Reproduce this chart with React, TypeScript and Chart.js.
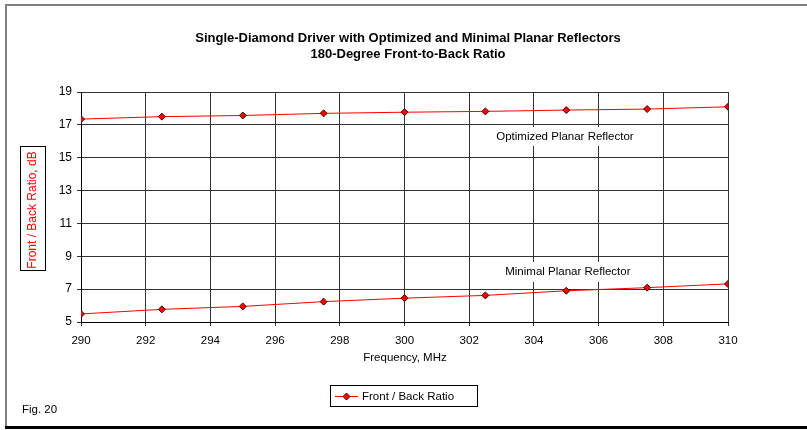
import React, { useEffect, useRef } from "react";
import { Chart, registerables } from "chart.js";

Chart.register(...registerables);

const frequencies = [290, 292.5, 295, 297.5, 300, 302.5, 305, 307.5, 310];
const optimizedRatio = [17.35, 17.5, 17.57, 17.7, 17.77, 17.82, 17.9, 17.96, 18.1];
const minimalRatio = [5.49, 5.77, 5.95, 6.24, 6.45, 6.62, 6.9, 7.09, 7.32];

const titleLines = [
  "Single-Diamond Driver with Optimized and Minimal Planar Reflectors",
  "180-Degree Front-to-Back Ratio",
];
const xTitle = "Frequency, MHz";
const yTitle = "Front / Back Ratio, dB";
const legendLabel = "Front / Back Ratio";
const figLabel = "Fig. 20";
const seriesLabels = ["Optimized Planar Reflector", "Minimal Planar Reflector"];

const FONT = "'Liberation Sans', Arial, sans-serif";

const extrasPlugin = {
  id: "extras",
  afterDraw(chart: any) {
    const ctx = chart.ctx as CanvasRenderingContext2D;
    const x = chart.scales.x;
    const y = chart.scales.y;
    ctx.save();
    // frame
    ctx.fillStyle = "#808080";
    ctx.fillRect(5, 4, 807, 2);
    ctx.fillRect(5, 4, 2, 424);
    ctx.fillStyle = "#000";
    ctx.fillRect(5, 426, 807, 3);

    // title
    ctx.fillStyle = "#000";
    ctx.textAlign = "center";
    ctx.textBaseline = "middle";
    ctx.font = `bold 13px ${FONT}`;
    ctx.fillText(titleLines[0], 408, 38);
    ctx.fillText(titleLines[1], 408, 54);

    // x title
    ctx.font = `11.5px ${FONT}`;
    ctx.fillText(xTitle, 405, 358);

    // y title box
    ctx.fillStyle = "#fff";
    ctx.fillRect(20, 146, 26, 125);
    ctx.strokeStyle = "#000";
    ctx.lineWidth = 1;
    ctx.strokeRect(20.5, 146.5, 25, 124);
    ctx.save();
    ctx.translate(33, 210);
    ctx.rotate(-Math.PI / 2);
    ctx.fillStyle = "#ff0000";
    ctx.font = `12px ${FONT}`;
    ctx.fillText(yTitle, 0, 0);
    ctx.restore();

    // annotation labels
    const labels = [
      { text: seriesLabels[0], cx: x.getPixelForValue(304.96), cy: y.getPixelForValue(16.28), w: 146, h: 19 },
      { text: seriesLabels[1], cx: x.getPixelForValue(305.05), cy: y.getPixelForValue(8.05), w: 134, h: 20 },
    ];
    ctx.font = `11.5px ${FONT}`;
    labels.forEach((l) => {
      ctx.fillStyle = "#fff";
      ctx.fillRect(Math.round(l.cx - l.w / 2), Math.round(l.cy - l.h / 2), l.w, l.h);
      ctx.fillStyle = "#000";
      ctx.fillText(l.text, l.cx, l.cy);
    });

    // legend
    ctx.fillStyle = "#fff";
    ctx.fillRect(330, 385, 148, 22);
    ctx.strokeStyle = "#000";
    ctx.strokeRect(330.5, 385.5, 147, 21);
    ctx.strokeStyle = "#ff0000";
    ctx.beginPath();
    ctx.moveTo(335, 396.5);
    ctx.lineTo(358, 396.5);
    ctx.stroke();
    ctx.fillStyle = "#ff0000";
    ctx.strokeStyle = "#400000";
    ctx.beginPath();
    ctx.moveTo(346.5, 393);
    ctx.lineTo(350, 396.5);
    ctx.lineTo(346.5, 400);
    ctx.lineTo(343, 396.5);
    ctx.closePath();
    ctx.fill();
    ctx.stroke();
    ctx.fillStyle = "#000";
    ctx.textAlign = "left";
    ctx.font = `11.5px ${FONT}`;
    ctx.fillText(legendLabel, 362, 396.5);

    // fig label
    ctx.fillText(figLabel, 22, 410);
    ctx.restore();
  },
};

export default function App() {
  const ref = useRef<HTMLCanvasElement | null>(null);
  useEffect(() => {
    if (!ref.current) return;
    const mk = (vals: number[]) => frequencies.map((f, i) => ({ x: f, y: vals[i] }));
    const ds = (label: string, vals: number[]) => ({
      label,
      data: mk(vals),
      borderColor: "#ff0000",
      borderWidth: 1,
      backgroundColor: "#ff0000",
      pointStyle: "rectRot" as const,
      pointRadius: 3.5,
      pointBorderColor: "#400000",
      pointBorderWidth: 1,
      pointBackgroundColor: "#ff0000",
      tension: 0,
    });
    const chart = new Chart(ref.current, {
      type: "line",
      data: {
        datasets: [ds(legendLabel, optimizedRatio), ds(legendLabel, minimalRatio)],
      },
      options: {
        responsive: false,
        animation: false,
        events: [],
        layout: { padding: { left: 0, top: 92, right: 79, bottom: 0 } },
        plugins: {
          legend: { display: false },
          title: { display: false },
          tooltip: { enabled: false },
        },
        scales: {
          x: {
            type: "linear",
            min: 290,
            max: 310,
            afterFit: (s: any) => {
              s.height = 108;
            },
            ticks: {
              stepSize: 2,
              color: "#000",
              padding: 8,
              maxRotation: 0,
              font: { family: FONT, size: 11.5 },
            },
            grid: { color: "#333", tickLength: 4, lineWidth: 1 },
            border: { color: "#000", width: 1 },
          },
          y: {
            type: "linear",
            min: 5,
            max: 19,
            afterFit: (s: any) => {
              s.width = 81;
            },
            ticks: {
              stepSize: 2,
              color: "#000",
              padding: 5,
              font: { family: FONT, size: 12 },
            },
            grid: { color: "#333", tickLength: 4, lineWidth: 1 },
            border: { color: "#000", width: 1 },
          },
        },
      },
      plugins: [extrasPlugin],
    });
    return () => chart.destroy();
  }, []);
  return (
    <div style={{ position: "absolute", left: 0, top: 0, width: 807, height: 430, background: "#fff" }}>
      <canvas ref={ref} width={807} height={430} style={{ display: "block" }} />
    </div>
  );
}
